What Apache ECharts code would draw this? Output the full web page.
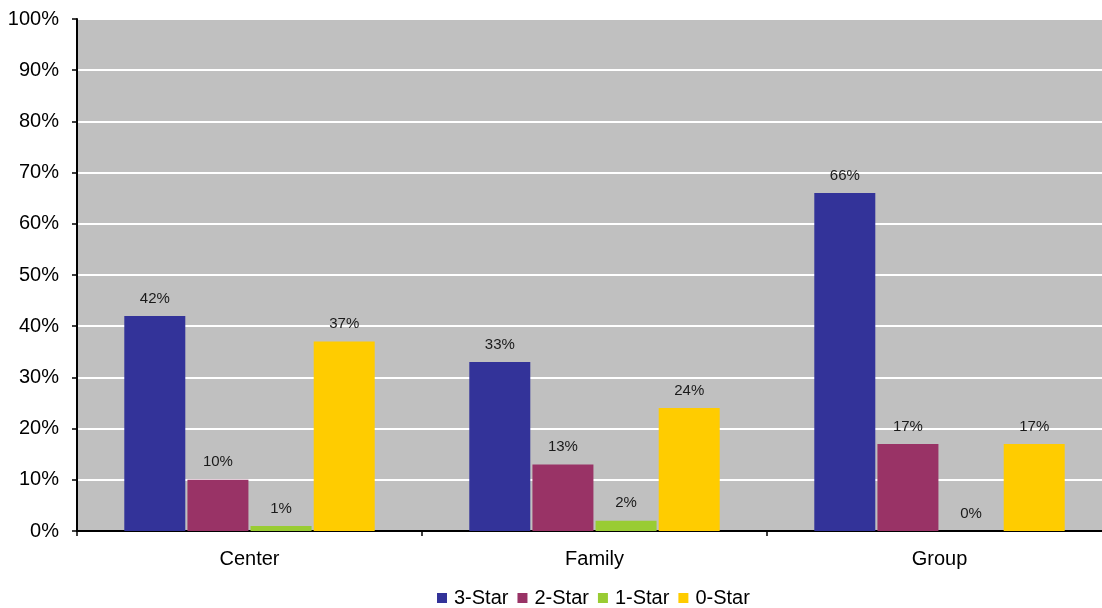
<!DOCTYPE html>
<html>
<head>
<meta charset="utf-8">
<script src="https://cdn.jsdelivr.net/npm/echarts@6/dist/echarts.min.js"></script>
<style>
  html, body { margin: 0; padding: 0; background: #fff; }
  #chart { width: 1102px; height: 608px; }
</style>
</head>
<body>
<div id="chart"></div>
<script>
// Share of ratings per program type (percent)
const categories = ['Center', 'Family', 'Group'];
const seriesNames = ['3-Star', '2-Star', '1-Star', '0-Star'];
const threeStar = [42, 33, 66];
const twoStar = [10, 13, 17];
const oneStar = [1, 2, 0];
const zeroStar = [37, 24, 17];
const colors = ['#333399', '#993366', '#99CC33', '#FFCC00'];

const FONT = 'Liberation Sans, Arial, sans-serif';
const values = [threeStar, twoStar, oneStar, zeroStar];

const chart = echarts.init(document.getElementById('chart'), null, { renderer: 'canvas' });

chart.setOption({
  animation: false,
  textStyle: { fontFamily: FONT },
  grid: {
    left: 77, top: 19, width: 1035, height: 512,
    outerBoundsMode: 'none',
    containLabel: false,
    show: true, backgroundColor: '#C0C0C0', borderWidth: 0
  },
  legend: {
    top: 583,
    left: 432,
    itemWidth: 10,
    itemHeight: 10,
    itemGap: 9,
    icon: 'rect',
    textStyle: { fontSize: 20, color: '#000', fontFamily: FONT, padding: [0, 0, 0, 2] },
    data: seriesNames
  },
  xAxis: {
    type: 'category',
    data: categories,
    axisLine: { lineStyle: { color: '#000', width: 2 } },
    axisTick: { show: true, length: 5, lineStyle: { color: '#000', width: 1.5 } },
    axisLabel: { fontSize: 20, color: '#000', margin: 18, fontFamily: FONT },
    splitLine: { show: false }
  },
  yAxis: {
    type: 'value',
    min: 0, max: 100, interval: 10,
    axisLine: { show: true, lineStyle: { color: '#000', width: 2 } },
    axisTick: { show: true, length: 5, lineStyle: { color: '#000', width: 1.5 } },
    axisLabel: { fontSize: 20, color: '#000', margin: 18, fontFamily: FONT, formatter: '{value}%' },
    splitLine: { show: true, lineStyle: { color: '#FFFFFF', width: 2 } }
  },
  series: seriesNames.map((name, i) => ({
    name: name,
    type: 'bar',
    data: values[i],
    barWidth: 61,
    barGap: '3.5%',
    barCategoryGap: '27%',
    itemStyle: { color: colors[i] },
    label: {
      show: true,
      position: 'top',
      distance: 10,
      fontSize: 15,
      color: '#1a1a1a',
      fontFamily: FONT,
      formatter: '{c}%'
    }
  }))
});
</script>
</body>
</html>
